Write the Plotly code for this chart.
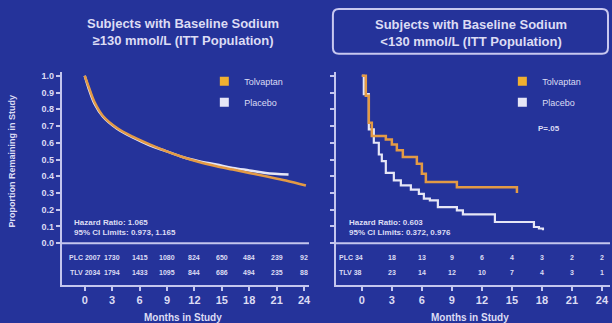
import plotly.graph_objects as go

# ---------------- data ----------------
months_ticks = [0, 3, 6, 9, 12, 15, 18, 21, 24]
prop_ticks = [0.0, 0.1, 0.2, 0.3, 0.4, 0.5, 0.6, 0.7, 0.8, 0.9, 1.0]

# Left panel: baseline sodium >=130 mmol/L
left_tlv_m = [0, 0.4, 1.1, 2.0, 3.5, 5.3, 7.1, 8.9, 10.7, 12.5, 14.4, 16.2, 18.0, 19.8, 22.0, 24.2]
left_tlv_p = [1.0, 0.94, 0.84, 0.76, 0.69, 0.635, 0.59, 0.55, 0.515, 0.485, 0.46, 0.44, 0.42, 0.40, 0.375, 0.345]
left_plc_m = [0, 0.4, 1.1, 2.0, 3.5, 5.3, 7.1, 8.9, 10.7, 12.5, 14.4, 16.2, 18.0, 19.8, 22.3]
left_plc_p = [1.0, 0.93, 0.83, 0.755, 0.685, 0.63, 0.585, 0.55, 0.515, 0.49, 0.47, 0.45, 0.435, 0.42, 0.41]

# Right panel: baseline sodium <130 mmol/L (step curves)
right_tlv_m = [0, 0.4, 0.7, 1.0, 2.4, 3.0, 3.5, 4.1, 5.5, 6.0, 6.4, 9.5, 15.5]
right_tlv_p = [1.0, 0.88, 0.72, 0.64, 0.62, 0.59, 0.555, 0.515, 0.475, 0.415, 0.365, 0.335, 0.30]
right_plc_m = [0, 0.2, 0.7, 1.2, 1.7, 2.0, 2.4, 3.2, 3.9, 4.9, 5.7, 6.2, 6.8, 7.6, 9.5, 10.1, 13.3, 17.2, 17.7, 18.1]
right_plc_p = [1.0, 0.89, 0.68, 0.60, 0.53, 0.49, 0.42, 0.375, 0.345, 0.32, 0.295, 0.266, 0.256, 0.216, 0.196, 0.172, 0.127, 0.097, 0.088, 0.077]

# Numbers at risk
left_risk_plc = [2007, 1730, 1415, 1080, 824, 650, 484, 239, 92]
left_risk_tlv = [2034, 1794, 1433, 1095, 844, 686, 494, 235, 88]
right_risk_plc = [34, 18, 13, 9, 6, 4, 3, 2, 2]
right_risk_tlv = [38, 23, 14, 12, 10, 7, 4, 3, 1]

title_left = ["Subjects with Baseline Sodium", "\u2265130 mmol/L (ITT Population)"]
title_right = ["Subjects with Baseline Sodium", "<130 mmol/L (ITT Population)"]
hr_left = ["Hazard Ratio: 1.065", "95% CI Limits: 0.973, 1.165"]
hr_right = ["Hazard Ratio: 0.603", "95% CI Limits: 0.372, 0.976"]
p_right = "P=.05"

# ---------------- style ----------------
W, H = 612, 323
BG = "#25339a"
TXT = "#dcdcf4"
AX = "#c4c6ee"
ORANGE = "#e39a45"
ORANGE_SQ = "#f0b030"
WHITE = "#e6e6f6"
FONT = "Liberation Sans, Arial, sans-serif"


def px(x):
    return x / W


def py(y):
    return 1 - y / H


fig = go.Figure()

# curves
fig.add_trace(go.Scatter(x=left_plc_m, y=left_plc_p, mode="lines", line=dict(color=WHITE, width=2.5),
                         xaxis="x", yaxis="y", showlegend=False, line_shape="spline"))
fig.add_trace(go.Scatter(x=left_tlv_m, y=left_tlv_p, mode="lines", line=dict(color=ORANGE, width=2.5),
                         xaxis="x", yaxis="y", showlegend=False, line_shape="spline"))
fig.add_trace(go.Scatter(x=right_plc_m, y=right_plc_p, mode="lines", line=dict(color=WHITE, width=2.2, shape="hv"),
                         xaxis="x2", yaxis="y2", showlegend=False))
fig.add_trace(go.Scatter(x=right_tlv_m, y=right_tlv_p, mode="lines", line=dict(color=ORANGE, width=2.5, shape="hv"),
                         xaxis="x2", yaxis="y2", showlegend=False))

# legend entries (square markers)
for name, col, lg, grp in [("Tolvaptan", ORANGE_SQ, "legend", "a"), ("Placebo", WHITE, "legend", "b"),
                           ("Tolvaptan", ORANGE_SQ, "legend2", "c"), ("Placebo", WHITE, "legend2", "d")]:
    fig.add_trace(go.Scatter(x=[None], y=[None], mode="markers", name=name,
                             marker=dict(symbol="square", size=9, color=col),
                             xaxis="x" if lg == "legend" else "x2", yaxis="y" if lg == "legend" else "y2",
                             legend=lg, legendgroup=grp))

YR = [-0.25, 1.02]
ydom = [py(285), py(285 - (YR[1] - YR[0]) * 168)]

axis_common = dict(showgrid=False, zeroline=False, showline=True, linecolor=AX, linewidth=2,
                   ticks="outside", ticklen=4, tickcolor=AX, tickwidth=1.5)

xtickfont = dict(size=11, color=TXT, family=FONT, weight="bold")

fig.update_layout(
    width=W, height=H,
    margin=dict(l=0, r=0, t=0, b=0),
    paper_bgcolor=BG, plot_bgcolor=BG,
    font=dict(family=FONT, color=TXT),
    xaxis=dict(domain=[px(62), px(310)], range=[-23 / 9.17, (310 - 85) / 9.17], tickvals=months_ticks,
               tickfont=xtickfont, anchor="y", **axis_common),
    yaxis=dict(domain=ydom, range=YR, tickvals=prop_ticks, ticktext=[f"{v:.1f}" for v in prop_ticks],
               tickfont=dict(size=9, color=TXT, family=FONT, weight="bold"), anchor="x", **axis_common),
    xaxis2=dict(domain=[px(337), 1.0], range=[-26 / 10.04, (612 - 363) / 10.04], tickvals=months_ticks,
                tickfont=xtickfont, anchor="y2", **axis_common),
    yaxis2=dict(domain=ydom, range=YR, tickvals=prop_ticks, showticklabels=False, anchor="x2", **axis_common),
    legend=dict(x=px(205), y=py(66), xanchor="left", yanchor="top", bgcolor="rgba(0,0,0,0)",
                font=dict(size=9, color=TXT, family=FONT), itemwidth=30, tracegroupgap=2),
    legend2=dict(x=px(504), y=py(66), xanchor="left", yanchor="top", bgcolor="rgba(0,0,0,0)",
                 font=dict(size=9, color=TXT, family=FONT), itemwidth=30, tracegroupgap=2),
)

shapes = []
# zero line of each panel (top of the at-risk table)
for xa, ya in [("x", "y"), ("x2", "y2")]:
    shapes.append(dict(type="line", xref=f"{xa} domain", yref=ya, x0=0, x1=1, y0=0, y1=0,
                       line=dict(color=AX, width=2)))

# rounded title box on the right
x0, x1, y0, y1, r = 334, 610, 8, 53, 6
path = (f"M {px(x0 + r)},{py(y0)} L {px(x1 - r)},{py(y0)} Q {px(x1)},{py(y0)} {px(x1)},{py(y0 + r)} "
        f"L {px(x1)},{py(y1 - r)} Q {px(x1)},{py(y1)} {px(x1 - r)},{py(y1)} "
        f"L {px(x0 + r)},{py(y1)} Q {px(x0)},{py(y1)} {px(x0)},{py(y1 - r)} "
        f"L {px(x0)},{py(y0 + r)} Q {px(x0)},{py(y0)} {px(x0 + r)},{py(y0)} Z")
shapes.append(dict(type="path", xref="paper", yref="paper", path=path, line=dict(color="#c8c8f0", width=2)))
fig.update_layout(shapes=shapes)

ann = []
bold = lambda s: f"<b>{s}</b>"
C = dict(xanchor="center", yanchor="middle", showarrow=False, xref="paper", yref="paper")
# titles
ann.append(dict(x=px(184), y=py(31), text="<br>".join(bold(t) for t in title_left),
                font=dict(size=13, color=TXT), align="center", **C))
ann.append(dict(x=px(473), y=py(32), text="<br>".join(bold(t) for t in title_right),
                font=dict(size=13, color=TXT), align="center", **C))
# axis titles
ann.append(dict(x=px(12), y=py(160), textangle=-90, text=bold("Proportion Remaining in Study"),
                font=dict(size=9, color=TXT), **C))
for xc in (184, 472):
    ann.append(dict(x=px(xc), y=py(317), text=bold("Months in Study"), font=dict(size=10, color=TXT), **C))
# hazard ratio text
for lines, xa, ya in [(hr_left, "x", "y"), (hr_right, "x2", "y2")]:
    ann.append(dict(x=0.04, y=0.095, xref=f"{xa} domain", yref=ya, xanchor="left", yanchor="middle",
                    showarrow=False, text="<br>".join(bold(t) for t in lines), align="left",
                    font=dict(size=8, color=TXT)))
# p value
ann.append(dict(x=px(538), y=py(128), xref="paper", yref="paper", xanchor="left", yanchor="middle",
                showarrow=False, text=bold(p_right), font=dict(size=8, color=TXT)))

# numbers at risk
for xa, ya, plc, tlv, shift in [("x", "y", left_risk_plc, left_risk_tlv, 0),
                                ("x2", "y2", right_risk_plc, right_risk_tlv, -11)]:
    for i, m in enumerate(months_ticks):
        for row, vals, lab in [(-0.083, plc, "PLC"), (-0.172, tlv, "TLV")]:
            t = f"{lab} {vals[i]}" if i == 0 else str(vals[i])
            ann.append(dict(x=m, y=row, xref=xa, yref=ya, showarrow=False, text=bold(t),
                            xanchor="center", yanchor="middle",
                            xshift=shift if i == 0 else 0, font=dict(size=7, color=TXT)))

fig.update_layout(annotations=ann)
fig.write_html("out.html", config={"displayModeBar": False},
               post_script="document.body.style.margin='0';")
